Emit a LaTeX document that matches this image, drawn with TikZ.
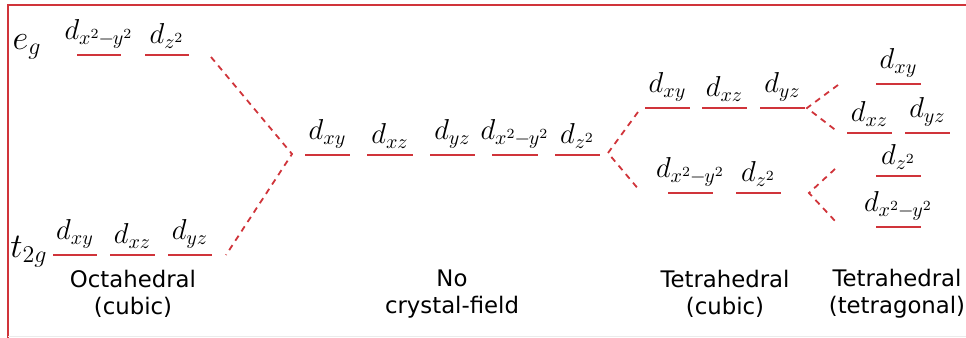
\documentclass[tikz,border=0pt]{standalone}
\usepackage[no-math]{fontspec}
\setmainfont{DejaVu Sans}
\usepackage{amsmath, amssymb}
\definecolor{lvlred}{RGB}{208,52,58}
\tikzstyle{level}=[lvlred, line width = 1pt]
\tikzstyle{split}=[lvlred, line width = 0.9pt, dash pattern=on 3pt off 2.6pt]
\tikzstyle{orb}=[anchor=south, inner sep=0pt, text=black, font=\fontsize{14.5}{16}\selectfont]
\tikzstyle{caption}=[align=center, font=\fontsize{11.4}{13.5}\selectfont]

\begin{document}
\begin{tikzpicture}[x=0.5pt, y=-0.5pt]
				\useasboundingbox (0,0) rectangle (966,338);
				\draw[lvlred, line width=1.2pt] (8,338) -- (8,5) -- (966,5);
				\draw[black!8, line width=0.5pt] (8,336.5) -- (966,336.5);

				% octahedral
				\node[orb, anchor=center, font=\fontsize{18}{20}\selectfont] (eg) at (27,47) {$e_g$};
				\node[orb, anchor=center, font=\fontsize{18}{20}\selectfont] (t2g) at (29,252) {$t_{2g}$};
				\draw[level] (77,55) -- (121,55) node[orb, midway, above=3pt] (oa) {$d_{x^2\mkern-1mu-\mkern-1mu y^2}$};
				\draw[level] (145,55) -- (189,55) node[orb, midway, above=3pt] (ob) {$d_{z^2}$};
				\draw[level] (53,255) -- (97,255) node[orb, midway, above=3pt] (oc) {$d_{xy}$};
				\draw[level] (110,255) -- (155,255) node[orb, midway, above=3pt] (od) {$d_{xz}$};
				\draw[level] (168,255) -- (212,255) node[orb, midway, above=3pt] (oe) {$d_{yz}$};
				\node[caption] (octa) at (133,294) {Octahedral\\(cubic)};

				% free ion
				\draw[level] (305,155) -- (350,155) node[orb, midway, above=3pt] (fa) {$d_{xy}$};
				\draw[level] (367,155) -- (413,155) node[orb, midway, above=3pt] (fb) {$d_{xz}$};
				\draw[level] (430,155) -- (475,155) node[orb, midway, above=3pt] (fc) {$d_{yz}$};
				\draw[level] (492,155) -- (538,155) node[orb, midway, above=3pt] (fd) {$d_{x^2\mkern-1mu-\mkern-1mu y^2}$};
				\draw[level] (555,155) -- (600,155) node[orb, midway, above=3pt] (fe) {$d_{z^2}$};
				\node[caption] (free) at (452,294) {No\\crystal-field};

				% tetrahedral, cubic
				\draw[level] (645,108) -- (690,108) node[orb, midway, above=3pt] (ta) {$d_{xy}$};
				\draw[level] (702,108) -- (747,108) node[orb, midway, above=3pt] (tb) {$d_{xz}$};
				\draw[level] (760,108) -- (805,108) node[orb, midway, above=3pt] (tc) {$d_{yz}$};
				\draw[level] (668,193) -- (713,193) node[orb, midway, above=3pt] (td) {$d_{x^2\mkern-1mu-\mkern-1mu y^2}$};
				\draw[level] (736,193) -- (781,193) node[orb, midway, above=3pt] (te) {$d_{z^2}$};
				\node[caption] (tetc) at (725,294) {Tetrahedral\\(cubic)};

				% tetrahedral, tetragonal
				\draw[level] (876,84) -- (921,84) node[orb, midway, above=3pt] (ga) {$d_{xy}$};
				\draw[level] (847,133) -- (892,133) node[orb, midway, above=3pt] (gb) {$d_{xz}$};
				\draw[level] (905,133) -- (950,133) node[orb, midway, above=3pt] (gc) {$d_{yz}$};
				\draw[level] (876,176) -- (921,176) node[orb, midway, above=3pt] (gd) {$d_{z^2}$};
				\draw[level] (876,227) -- (921,227) node[orb, midway, above=3pt] (ge) {$d_{x^2\mkern-1mu-\mkern-1mu y^2}$};
				\node[caption] (tett) at (897,294) {Tetrahedral\\(tetragonal)};

				% splittings
				\coordinate (oup) at (211,57);
				\coordinate (olo) at (226,255);
				\coordinate (fl) at (292,154);
				\coordinate (fr) at (608,153);
				\coordinate (tup) at (638,112);
				\coordinate (tlo) at (640,191);
				\coordinate (tr1) at (807,108);
				\coordinate (tr2) at (809,193);
				\coordinate (g1) at (838,85);
				\coordinate (g2) at (838,132);
				\coordinate (g3) at (835,169);
				\coordinate (g4) at (836,222);

				\draw[split] (oup) -- (fl) -- (olo);
				\draw[split] (tup) -- (fr) -- (tlo);
				\draw[split] (g1) -- (tr1) -- (g2);
				\draw[split] (g3) -- (tr2) -- (g4);
			\end{tikzpicture}
\end{document}
